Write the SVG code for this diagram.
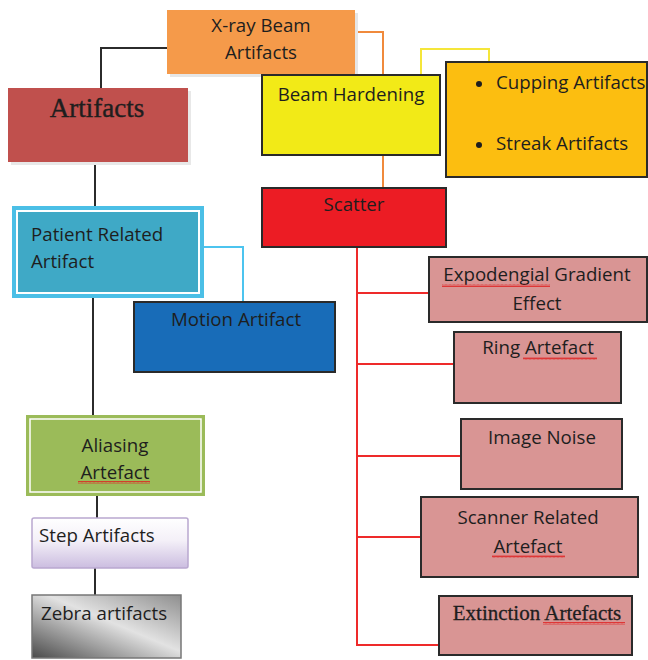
<svg xmlns="http://www.w3.org/2000/svg" width="648" height="660" viewBox="0 0 648 660">
<style>
.t{font-family:"Open Sans",Lato,"Liberation Sans",sans-serif;font-size:18.7px;fill:#1e1e1e}
.s{font-family:"Liberation Serif","Times New Roman",serif;fill:#1e1e1e}
.box{stroke:#2a2a2a;stroke-width:2}
.c{fill:none;stroke-width:2}
</style>
<defs>
<linearGradient id="gStep" x1="0" y1="0" x2="0" y2="1">
<stop offset="0" stop-color="#ffffff"/>
<stop offset="0.45" stop-color="#f4f0f8"/>
<stop offset="1" stop-color="#cbbde0"/>
</linearGradient>
<linearGradient id="gZebra" x1="0" y1="1" x2="1" y2="0">
<stop offset="0" stop-color="#4a4a4a"/>
<stop offset="0.55" stop-color="#e2e2e2"/>
<stop offset="1" stop-color="#8e8e8e"/>
</linearGradient>
<pattern id="pw" width="4" height="3" patternUnits="userSpaceOnUse">
<path d="M0 2.5 L1 0.5 L2 2.5 L3 0.5 L4 2.5" fill="none" stroke="#e02020" stroke-width="0.8"/>
</pattern>
</defs>
<rect width="648" height="660" fill="#ffffff"/>

<g id="connectors">
<polyline class="c" stroke="#2b2b2b" points="167,48 101,48 101,88"/>
<line class="c" stroke="#2b2b2b" x1="95" y1="162" x2="95" y2="206"/>
<polyline class="c" stroke="#4cc4ef" points="204,247 243,247 243,302"/>
<line class="c" stroke="#2b2b2b" x1="93" y1="298" x2="93" y2="416"/>
<line class="c" stroke="#2b2b2b" x1="97" y1="496" x2="97" y2="518"/>
<line class="c" stroke="#2b2b2b" x1="95" y1="568" x2="95" y2="595"/>
<polyline class="c" stroke="#f08a3c" points="355,32 383,32 383,75"/>
<line class="c" stroke="#f08a3c" x1="383" y1="155" x2="383" y2="188"/>
<polyline class="c" stroke="#f5e63a" points="421,75 421,49 489,49 489,62"/>
<polyline class="c" stroke="#ee2a2a" points="357,247 357,645 439,645"/>
<line class="c" stroke="#ee2a2a" x1="357" y1="293" x2="429" y2="293"/>
<line class="c" stroke="#ee2a2a" x1="357" y1="364" x2="454" y2="364"/>
<line class="c" stroke="#ee2a2a" x1="357" y1="456" x2="461" y2="456"/>
<line class="c" stroke="#ee2a2a" x1="357" y1="537" x2="421" y2="537"/>
</g>

<g id="xray">
<rect x="170" y="13" width="188" height="64" fill="#e6e6e6"/>
<rect x="167" y="10" width="188" height="64" fill="#f59a4a"/>
<text class="t" x="261" y="32" text-anchor="middle">X-ray Beam</text>
<text class="t" x="261" y="59" text-anchor="middle">Artifacts</text>
</g>

<g id="artifacts">
<rect x="11" y="91" width="180" height="74" fill="#e8e8e8"/>
<rect x="8" y="88" width="180" height="74" fill="#c0504d"/>
<text class="s" x="97" y="117" text-anchor="middle" font-size="27" stroke="#1e1e1e" stroke-width="0.4">Artifacts</text>
</g>

<g id="patient">
<rect x="12" y="206" width="192" height="92" fill="#4bbfe6"/>
<rect x="16" y="210" width="184" height="84" fill="#ffffff"/>
<rect x="18" y="212" width="180" height="80" fill="#3fa9c6"/>
<text class="t" x="31" y="241">Patient Related</text>
<text class="t" x="31" y="268">Artifact</text>
</g>

<g id="motion">
<rect class="box" x="134" y="302" width="201" height="70" fill="#186cb8"/>
<text class="t" x="236" y="326" text-anchor="middle">Motion Artifact</text>
</g>

<g id="aliasing">
<rect x="26" y="415" width="179" height="81" fill="#9bbb59"/>
<rect x="30" y="419" width="171" height="73" fill="none" stroke="#ffffff" stroke-width="1.5"/>
<text class="t" x="115" y="452" text-anchor="middle">Aliasing</text>
<text class="t" x="115" y="479" text-anchor="middle">Artefact</text>
<rect x="78" y="481" width="72" height="3" fill="url(#pw)"/>
</g>

<g id="step">
<rect x="32" y="518" width="156" height="50" rx="2" fill="url(#gStep)" stroke="#b9a8d0" stroke-width="1.5"/>
<text class="t" x="39" y="542">Step Artifacts</text>
</g>

<g id="zebra">
<rect x="32" y="595" width="149" height="63" fill="url(#gZebra)" stroke="#777777" stroke-width="1.5"/>
<text class="t" x="41" y="620">Zebra artifacts</text>
</g>

<g id="beamhardening">
<rect class="box" x="262" y="75" width="178" height="80" fill="#f2ea17"/>
<text class="t" x="351" y="101" text-anchor="middle">Beam Hardening</text>
</g>

<g id="cupping">
<rect class="box" x="446" y="62" width="201" height="115" fill="#fcbe10"/>
<circle cx="479" cy="84" r="3" fill="#1e1e1e"/>
<text class="t" x="496" y="89">Cupping Artifacts</text>
<circle cx="479" cy="145" r="3" fill="#1e1e1e"/>
<text class="t" x="496" y="150">Streak Artifacts</text>
</g>

<g id="scatter">
<rect class="box" x="262" y="188" width="184" height="59" fill="#ec1c24"/>
<text class="t" x="354" y="211" text-anchor="middle">Scatter</text>
</g>

<g id="expodengial">
<rect class="box" x="429" y="257" width="218" height="65" fill="#d99594"/>
<text class="t" x="537" y="281" text-anchor="middle">Expodengial Gradient</text>
<text class="t" x="537" y="310" text-anchor="middle">Effect</text>
<rect x="442" y="284" width="108" height="3" fill="url(#pw)"/>
</g>

<g id="ring">
<rect class="box" x="454" y="332" width="167" height="71" fill="#d99594"/>
<text class="t" x="538" y="354" text-anchor="middle">Ring Artefact</text>
<rect x="523" y="357" width="74" height="3" fill="url(#pw)"/>
</g>

<g id="noise">
<rect class="box" x="461" y="419" width="161" height="70" fill="#d99594"/>
<text class="t" x="542" y="444" text-anchor="middle">Image Noise</text>
</g>

<g id="scanner">
<rect class="box" x="421" y="497" width="217" height="80" fill="#d99594"/>
<text class="t" x="528" y="524" text-anchor="middle">Scanner Related</text>
<text class="t" x="528" y="553" text-anchor="middle">Artefact</text>
<rect x="492" y="555" width="73" height="3" fill="url(#pw)"/>
</g>

<g id="extinction">
<rect class="box" x="439" y="596" width="193" height="59" fill="#d99594"/>
<text class="s" x="537" y="620" text-anchor="middle" font-size="21" stroke="#1e1e1e" stroke-width="0.3">Extinction Artefacts</text>
<rect x="543" y="622" width="82" height="3" fill="url(#pw)"/>
</g>
</svg>
